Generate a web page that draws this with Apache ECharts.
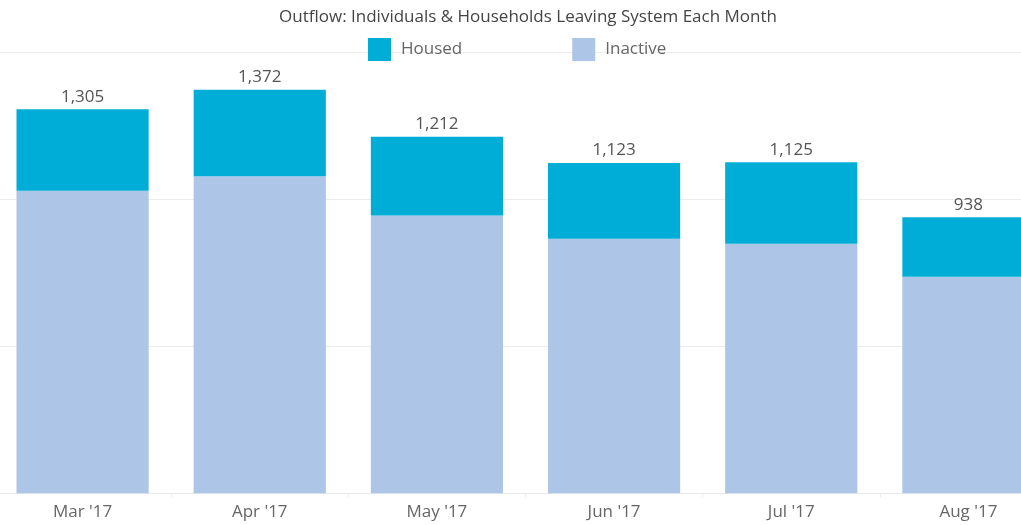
<!DOCTYPE html>
<html>
<head>
<meta charset="utf-8">
<script src="https://cdn.jsdelivr.net/npm/echarts@6/dist/echarts.min.js"></script>
<style>html,body{margin:0;padding:0;background:#fff;overflow:hidden;width:1021px;height:525px}#c{position:absolute;left:-6px;top:0;width:1063px;height:525px}</style>
</head>
<body>
<div id="c"></div>
<script>
const categories = ["Mar '17", "Apr '17", "May '17", "Jun '17", "Jul '17", "Aug '17"];
const totals = [1305, 1372, 1212, 1123, 1125, 938];
const inactive = [1028, 1078, 944, 865, 848, 736];
const housed = totals.map((t, i) => t - inactive[i]);

const chart = echarts.init(document.getElementById('c'));
const font = '"Open Sans", "Noto Sans", sans-serif';
chart.setOption({
  animation: false,
  title: {
    text: 'Outflow: Individuals & Households Leaving System Each Month',
    left: 529, textAlign: 'center', top: 4,
    textStyle: { fontFamily: font, fontSize: 17, fontWeight: 'normal', color: '#444' }
  },
  legend: {
    left: 369, top: 33,
    itemWidth: 23, itemHeight: 23, itemGap: 110,
    icon: 'rect',
    textStyle: { fontFamily: font, fontSize: 17, color: '#666', padding: [0, 0, 0, 5] },
    data: ['Housed', 'Inactive']
  },
  grid: { left: 0, right: 0, top: 52, bottom: 31.7, containLabel: false },
  xAxis: {
    type: 'category', data: categories,
    axisLine: { lineStyle: { color: '#e8e8e8' } },
    axisTick: { show: true, length: 4, lineStyle: { color: '#eee' } },
    axisLabel: { fontFamily: font, fontSize: 17, color: '#666', margin: 10 }
  },
  yAxis: {
    type: 'value', min: 0, max: 1500, interval: 500,
    axisLine: { show: false }, axisTick: { show: false }, axisLabel: { show: false },
    splitLine: { lineStyle: { color: '#ececec' } }
  },
  series: [
    {
      name: 'Inactive', type: 'bar', stack: 's', data: inactive,
      barWidth: '74.6%',
      itemStyle: { color: '#ADC5E7' }
    },
    {
      name: 'Housed', type: 'bar', stack: 's', data: housed,
      barWidth: '74.6%',
      itemStyle: { color: '#00ADD6' },
      label: {
        show: true, position: 'top', distance: 4,
        fontFamily: font, fontSize: 17, color: '#555',
        formatter: p => totals[p.dataIndex].toLocaleString('en-US')
      }
    }
  ]
});
</script>
</body>
</html>
